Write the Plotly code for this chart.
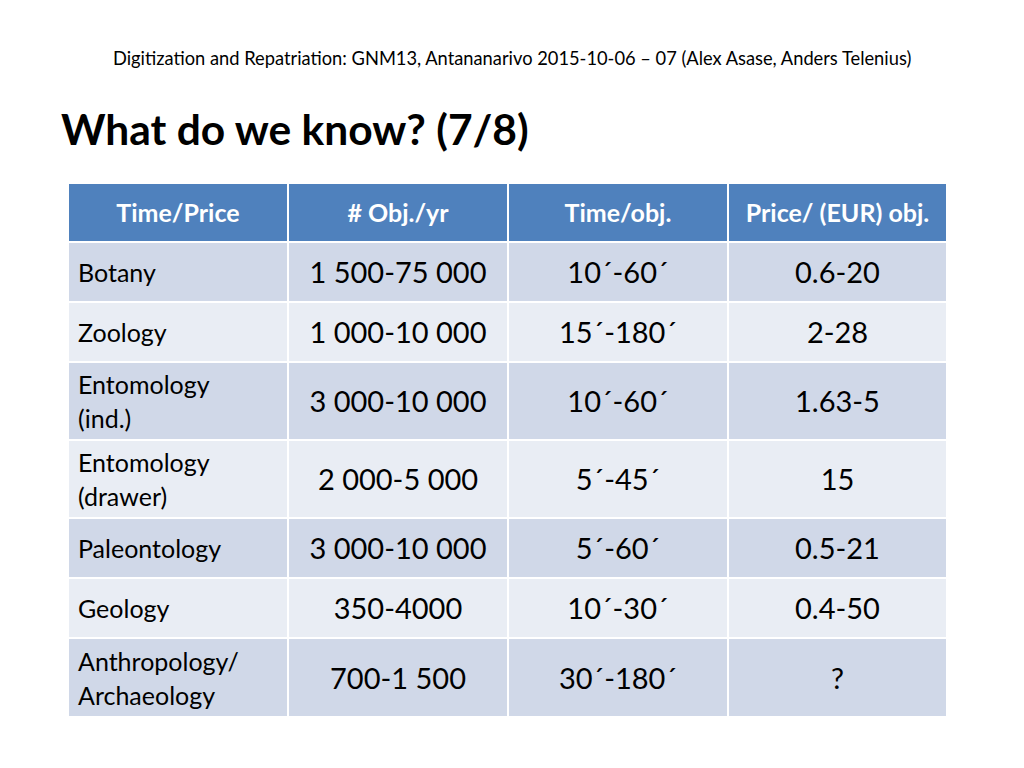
import plotly.graph_objects as go

# ---- data ----
headers = ["Time/Price", "# Obj./yr", "Time/obj.", "Price/ (EUR) obj."]
categories = ["Botany", "Zoology", "Entomology\n(ind.)", "Entomology\n(drawer)",
              "Paleontology", "Geology", "Anthropology/\nArchaeology"]
objs_per_year = ["1 500-75 000", "1 000-10 000", "3 000-10 000", "2 000-5 000",
                 "3 000-10 000", "350-4000", "700-1 500"]
time_per_obj = ["10´-60´", "15´-180´", "10´-60´", "5´-45´", "5´-60´", "10´-30´", "30´-180´"]
price_per_obj = ["0.6-20", "2-28", "1.63-5", "15", "0.5-21", "0.4-50", "?"]

# ---- layout geometry (pixels on the page) ----
W, H = 1024, 768
PAGE_OFF = 8  # browser body margin
TABLE_L, TABLE_R, TABLE_T, TABLE_B = 68, 947, 183, 717
col_widths = [220, 220, 220, 219]
row_heights = [59, 60, 60, 78, 78, 60, 60, 79]
TEXT_DY = 4  # nudge text down so it sits in the middle of the cells
FONT = "Lato, 'Open Sans', sans-serif"
HEADER_BLUE = "#4F81BD"
ROW_DARK = "#D0D8E8"
ROW_LIGHT = "#E9EDF4"

col_edges = [0]
for w in col_widths:
    col_edges.append(col_edges[-1] + w)
row_edges = [0]
for h in row_heights:
    row_edges.append(row_edges[-1] + h)
col_centers = [(a + b) / 2 for a, b in zip(col_edges[:-1], col_edges[1:])]
row_centers = [(a + b) / 2 + TEXT_DY for a, b in zip(row_edges[:-1], row_edges[1:])]

# 0 = header, 1 = dark band, 2 = light band
z = []
for r in range(len(row_heights)):
    band = 0 if r == 0 else (1 if r % 2 == 1 else 2)
    z.append([band] * len(col_widths))

fig = go.Figure()
fig.add_trace(go.Heatmap(
    x=col_edges, y=row_edges, z=z, zmin=0, zmax=2,
    colorscale=[[0, HEADER_BLUE], [0.5, ROW_DARK], [1, ROW_LIGHT]],
    showscale=False, xgap=2, ygap=2, hoverinfo="skip",
))

# header text
fig.add_trace(go.Scatter(
    x=col_centers, y=[row_centers[0] - 1] * 4, text=headers, mode="text",
    textposition="middle center", hoverinfo="skip",
    textfont=dict(family=FONT, size=25, color="white", weight="bold"),
))

# row labels (first column, left aligned, multi-line split)
LINE_GAP = 34
lx, ly, lt = [], [], []
for i, cat in enumerate(categories):
    lines = cat.split("\n")
    n = len(lines)
    for j, line in enumerate(lines):
        lx.append(10)
        ly.append(row_centers[i + 1] + (j - (n - 1) / 2) * LINE_GAP)
        lt.append(line)
fig.add_trace(go.Scatter(
    x=lx, y=ly, text=lt, mode="text", textposition="middle right",
    hoverinfo="skip", textfont=dict(family=FONT, size=25, color="black"),
))

# value columns
vx, vy, vt = [], [], []
for c, col in enumerate([objs_per_year, time_per_obj, price_per_obj]):
    for i, v in enumerate(col):
        vx.append(col_centers[c + 1])
        vy.append(row_centers[i + 1])
        vt.append(v)
fig.add_trace(go.Scatter(
    x=vx, y=vy, text=vt, mode="text", textposition="middle center",
    hoverinfo="skip", textfont=dict(family=FONT, size=29, color="black"),
))


def px_x(x):
    return (x - TABLE_L) / (TABLE_R - TABLE_L)


def px_y(y):
    return (TABLE_B - y) / (TABLE_B - TABLE_T)


fig.add_annotation(
    x=px_x(512), y=px_y(58), xref="paper", yref="paper", showarrow=False,
    text="Digitization and Repatriation: GNM13, Antananarivo 2015-10-06 – 07 (Alex Asase, Anders Telenius)",
    font=dict(family=FONT, size=18.3, color="black"), xanchor="center", yanchor="middle",
)
fig.add_annotation(
    x=px_x(59), y=px_y(128), xref="paper", yref="paper", showarrow=False,
    text="What do we know? (7/8)", xanchor="left", yanchor="middle",
    font=dict(family=FONT, size=42.5, color="black", weight="bold"),
)

fig.update_layout(
    width=W, height=H, showlegend=False,
    paper_bgcolor="white", plot_bgcolor="white",
    margin=dict(l=TABLE_L - PAGE_OFF, r=W - TABLE_R + PAGE_OFF,
                t=TABLE_T - PAGE_OFF, b=H - TABLE_B + PAGE_OFF, autoexpand=False),
    xaxis=dict(range=[0, col_edges[-1]], visible=False, fixedrange=True),
    yaxis=dict(range=[row_edges[-1], 0], visible=False, fixedrange=True),
)

fig.write_html("out.html", config={"displayModeBar": False})
